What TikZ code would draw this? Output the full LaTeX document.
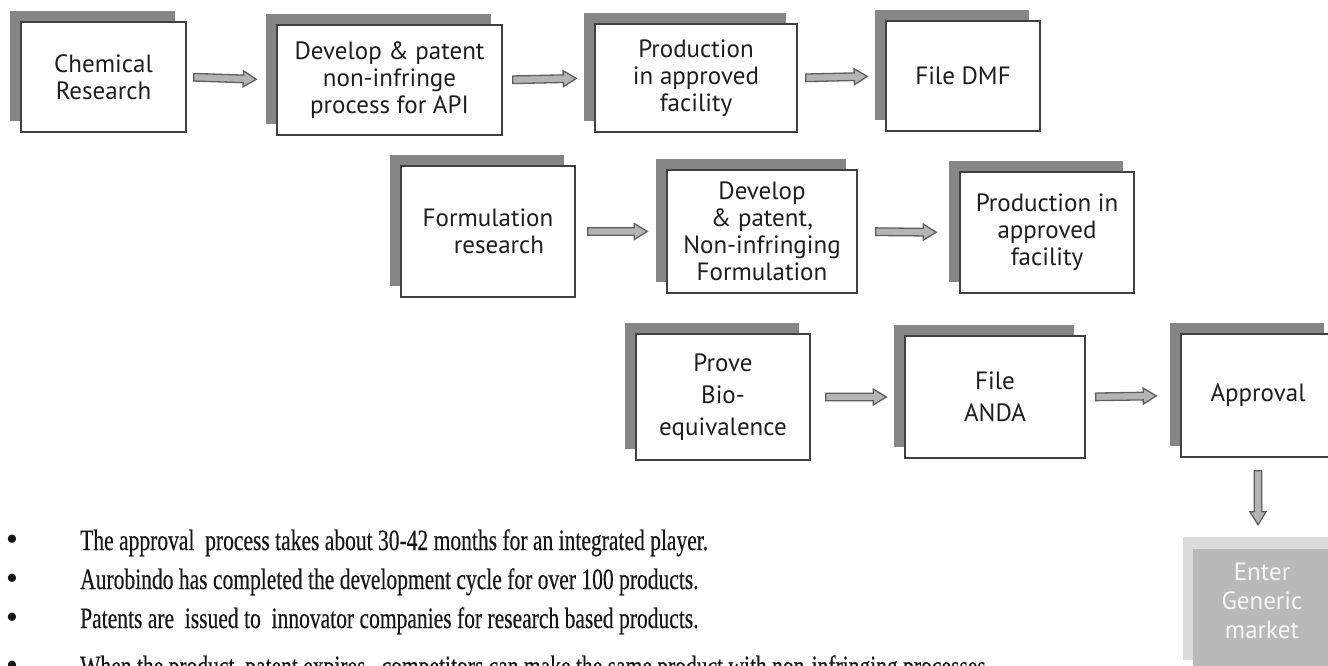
\documentclass[tikz,border=0pt]{standalone}
\usepackage{fontspec}
\setmainfont{Liberation Serif}
\newfontfamily\boxfont{PT Sans}
\newfontfamily\notefont[FakeStretch=0.73,FakeBold=0.3]{Liberation Serif}
\newfontfamily\dotfont{Liberation Serif}
\usetikzlibrary{calc,shadows}

\definecolor{boxline}{HTML}{404040}
\definecolor{boxshade}{HTML}{868686}
\definecolor{boxtext}{HTML}{1E1E1E}
\definecolor{arrowline}{HTML}{5E5E5E}
\definecolor{arrowfill}{HTML}{B4B4B4}
\definecolor{marketback}{HTML}{DCDCDC}
\definecolor{marketfront}{HTML}{B9B9B9}
\definecolor{notetext}{HTML}{161616}

\newcommand\notedot{\makebox[77pt][l]{\hspace*{3pt}{\dotfont\fontsize{34pt}{34pt}\selectfont •}}}

\tikzset{
  stepbox/.style={draw=boxline, line width=1.5pt, fill=white, text=boxtext,
    align=center, inner sep=0pt,
    font={\boxfont\fontsize{25pt}{27pt}\selectfont},
    drop shadow={shadow xshift=-11pt, shadow yshift=11pt, fill=boxshade, opacity=1}},
  wide lines/.style={font={\boxfont\fontsize{25pt}{32pt}\selectfont}},
  marketbox/.style={fill=marketfront, text=white!96!black, align=center, inner sep=0pt,
    font={\boxfont\fontsize{25pt}{29pt}\selectfont}},
  note/.style={text=notetext, inner sep=0pt, font={\notefont\fontsize{29.5pt}{32pt}\selectfont}},
  arrow gap start/.store in=\agapS,
  arrow gap end/.store in=\agapE,
  arrow gap start=8pt, arrow gap end=18pt,
  blockarrow/.style={draw=arrowline, fill=arrowfill, line width=1.3pt, line join=miter,
    to path={
      let \p0=(\tikztostart), \p9=(\tikztotarget),
          \n2={atan2(\y9-\y0,\x9-\x0)},
          \p1=($(\p0)+({\n2}:\agapS)$),
          \p2=($(\p9)+({\n2+180}:\agapE)$),
          \n1={veclen(\x2-\x1,\y2-\y1)}
      in ($(\p1)+({\n2+90}:3.8pt)$)
         -- ++({\n2}:{(\n1-13)*1pt})
         -- ++({\n2+90}:4.2pt)
         -- (\p2)
         -- ($(\p2)+({\n2+180}:13pt)+({\n2-90}:8pt)$)
         -- ++({\n2+90}:4.2pt)
         -- ($(\p1)+({\n2-90}:3.8pt)$)
         -- cycle
    }},
}

\begin{document}
\begin{tikzpicture}[x=1pt,y=-1pt]
\useasboundingbox (0,0) rectangle (1328,666);
\fill[white] (0,0) rectangle (1328,666);
\clip (0,0) rectangle (1328,666);

% API track
\node[stepbox, minimum width=165pt, minimum height=110pt] (chem) at (103.5,77) {Chemical\\Research};
\node[stepbox, minimum width=225pt, minimum height=110pt] (devapi) at (389.5,80) {Develop \& patent\\non-infringe\\process for API};
\node[stepbox, minimum width=202pt, minimum height=108pt] (prodapi) at (696,78) {Production\\in approved\\facility};
\node[stepbox, minimum width=154pt, minimum height=110pt] (dmf) at (963,76) {File DMF};

% formulation track
\node[stepbox, minimum width=174pt, minimum height=131pt] (formres) at (488,231.5) {Formulation\\\hspace*{22pt}research};
\node[stepbox, minimum width=190pt, minimum height=123pt] (devform) at (762,231.5) {Develop\\\& patent,\\Non-infringing\\Formulation};
\node[stepbox, minimum width=174pt, minimum height=121pt] (prodform) at (1047,232.5) {Production in\\approved\\facility};

% filing track
\node[stepbox, wide lines, minimum width=174pt, minimum height=126pt] (bio) at (723,397) {Prove\\Bio-\\equivalence};
\node[stepbox, wide lines, minimum width=180pt, minimum height=122pt] (anda) at (995,397) {File\\ANDA};
\node[stepbox, minimum width=154pt, minimum height=123pt] (approval) at (1258,395.5) {Approval};

% market entry
\fill[marketback] (1183,537) rectangle (1340,660);
\node[marketbox, minimum width=138pt, minimum height=104pt] (enter) at (1262,601) {Enter\\Generic\\market};
\fill[marketfront] (enter.south west) rectangle ([yshift=-20pt]enter.south east);

% connectors
\draw[blockarrow, arrow gap start=7pt, arrow gap end=20pt] (chem.east) to (devapi.west);
\draw[blockarrow, arrow gap start=10pt, arrow gap end=18pt] (devapi.east) to (prodapi.west);
\draw[blockarrow, arrow gap start=8pt, arrow gap end=18pt] (prodapi.east) to (dmf.west);
\draw[blockarrow, arrow gap start=12pt, arrow gap end=19pt] (formres.east) to (devform.west);
\draw[blockarrow, arrow gap start=18pt, arrow gap end=23pt] (devform.east) to (prodform.west);
\draw[blockarrow, arrow gap start=15pt, arrow gap end=18pt] (bio.east) to (anda.west);
\draw[blockarrow, arrow gap start=10pt, arrow gap end=24pt] (anda.east) to (approval.west);
\draw[blockarrow, arrow gap start=13pt, arrow gap end=24pt] (approval.south) to (approval.south |- enter.north);

% notes
\node[note, anchor=base west] (note1) at (3,550) {\notedot The approval\ \ process takes about 30-42 months for an integrated player.};
\node[note, anchor=base west] (note2) at (3,589) {\notedot Aurobindo has completed the development cycle for over 100 products.};
\node[note, anchor=base west] (note3) at (3,628) {\notedot Patents are\ \ issued to\ \ innovator companies for research based products.};
\node[note, anchor=base west] (note4) at (3,676) {\notedot When the product\ \ patent expires,\ \ competitors can make the same product with non-infringing processes.};
\end{tikzpicture}
\end{document}
